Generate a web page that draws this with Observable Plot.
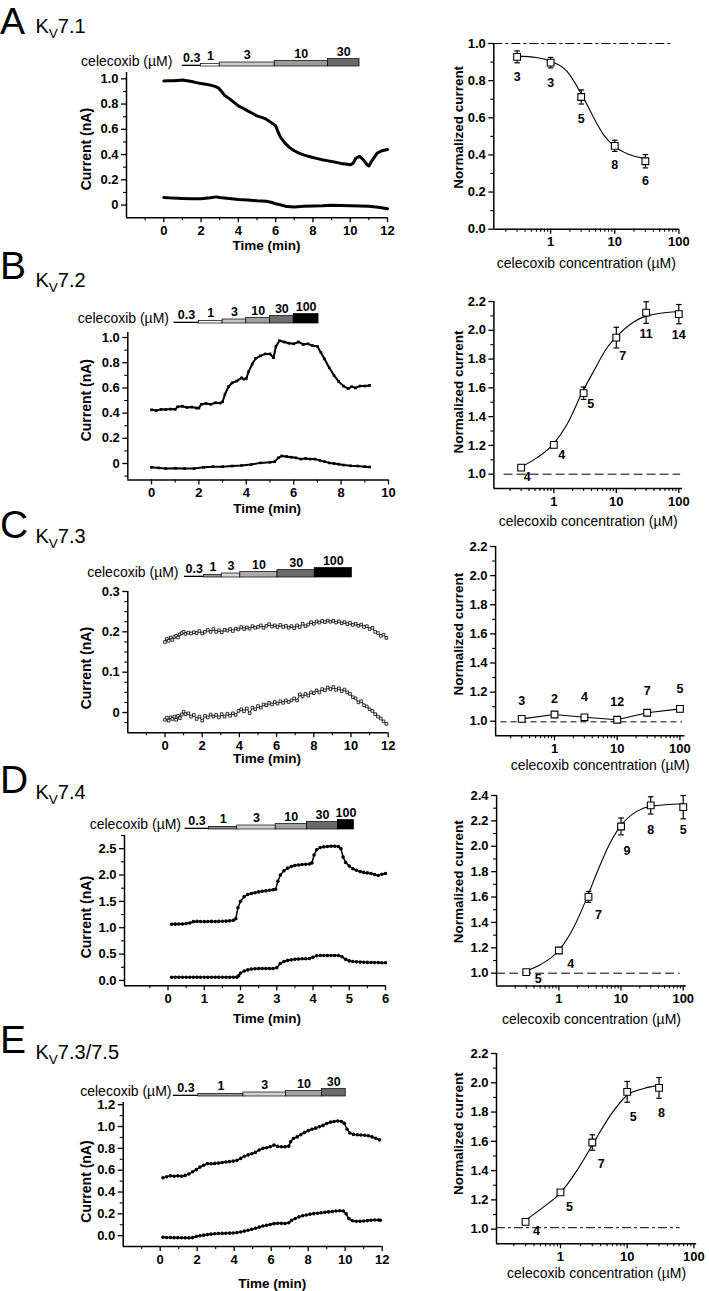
<!DOCTYPE html>
<html><head><meta charset="utf-8">
<script src="https://cdn.jsdelivr.net/npm/d3@7"></script>
<script src="https://cdn.jsdelivr.net/npm/@observablehq/plot@0.6"></script>
<style>
body{margin:0;background:#fff;}
#fig{position:relative;width:709px;height:1291px;overflow:hidden;background:#fff;font-family:"Liberation Sans",Arial,Helvetica,sans-serif;}
</style></head><body><div id="fig"></div>
<script>
const FONT = '"Liberation Sans", Arial, Helvetica, sans-serif';
const fig = document.getElementById("fig");

// ================= DATA =================
// ---- time courses [time (min), current (nA)] ----
const A_traceUpper = [[0,0.983],[0.25,0.985],[0.5,0.984],[0.75,0.987],[1,0.99],[1.25,0.985],[1.5,0.978],[1.75,0.97],[2,0.963],[2.25,0.957],[2.5,0.95],[2.75,0.94],[2.95,0.926],[3.1,0.9],[3.25,0.87],[3.5,0.845],[3.75,0.815],[4,0.786],[4.25,0.767],[4.5,0.746],[4.75,0.727],[5,0.706],[5.25,0.695],[5.5,0.68],[5.75,0.655],[6,0.628],[6.1,0.59],[6.25,0.54],[6.5,0.49],[6.75,0.455],[7,0.43],[7.25,0.412],[7.5,0.398],[7.75,0.386],[8,0.377],[8.25,0.368],[8.5,0.359],[8.75,0.352],[9,0.345],[9.25,0.338],[9.5,0.33],[9.75,0.325],[10,0.319],[10.15,0.33],[10.3,0.37],[10.5,0.385],[10.7,0.36],[10.9,0.32],[11.0,0.31],[11.2,0.36],[11.45,0.412],[11.7,0.43],[12,0.44]];
const A_traceLower = [[0,0.06],[0.5,0.055],[1,0.052],[1.5,0.05],[2,0.05],[2.5,0.058],[2.8,0.065],[3,0.06],[3.5,0.052],[4,0.045],[4.5,0.04],[5,0.034],[5.5,0.03],[5.8,0.02],[6,0.01],[6.3,0.0],[6.6,-0.012],[7,-0.015],[7.5,-0.01],[8,-0.008],[8.5,-0.006],[9,-0.002],[9.5,-0.004],[10,-0.005],[10.5,-0.008],[11,-0.01],[11.5,-0.018],[12,-0.03]];

const B_traceUpper = [[0,0.426],[0.2,0.42],[0.4,0.43],[0.6,0.428],[0.8,0.432],[1.0,0.43],[1.1,0.45],[1.3,0.455],[1.5,0.445],[1.7,0.448],[1.9,0.44],[2.0,0.44],[2.1,0.47],[2.3,0.476],[2.5,0.47],[2.7,0.482],[2.9,0.48],[3.0,0.49],[3.1,0.55],[3.25,0.61],[3.4,0.64],[3.6,0.655],[3.8,0.68],[3.9,0.67],[4.0,0.675],[4.1,0.73],[4.25,0.79],[4.4,0.835],[4.6,0.855],[4.8,0.87],[5.0,0.87],[5.15,0.84],[5.25,0.93],[5.4,0.975],[5.6,0.965],[5.8,0.955],[6.0,0.95],[6.2,0.965],[6.4,0.945],[6.6,0.95],[6.8,0.935],[7.0,0.93],[7.15,0.88],[7.3,0.83],[7.5,0.76],[7.7,0.7],[7.9,0.65],[8.1,0.615],[8.3,0.595],[8.45,0.61],[8.6,0.6],[8.8,0.615],[9.0,0.615],[9.2,0.62]];
const B_traceLower = [[0,-0.03],[0.3,-0.035],[0.6,-0.04],[1.0,-0.037],[1.4,-0.04],[1.8,-0.04],[2.2,-0.03],[2.6,-0.025],[3.0,-0.025],[3.4,-0.02],[3.8,-0.015],[4.2,-0.008],[4.6,0.005],[5.0,0.01],[5.2,0.015],[5.35,0.045],[5.5,0.06],[5.7,0.055],[5.9,0.05],[6.1,0.045],[6.3,0.035],[6.5,0.04],[6.7,0.035],[6.9,0.035],[7.1,0.025],[7.3,0.015],[7.5,0.005],[7.7,0.0],[7.9,-0.005],[8.1,-0.012],[8.4,-0.018],[8.7,-0.02],[9.0,-0.025],[9.2,-0.028]];

const C_traceUpper = [[0,0.175],[0.1,0.183],[0.2,0.178],[0.3,0.186],[0.4,0.18],[0.5,0.187],[0.6,0.19],[0.7,0.186],[0.8,0.194],[0.9,0.197],[1.0,0.2],[1.1,0.195],[1.25,0.198],[1.4,0.196],[1.55,0.199],[1.7,0.197],[1.85,0.202],[2.0,0.196],[2.15,0.2],[2.3,0.205],[2.45,0.2],[2.6,0.207],[2.75,0.2],[2.9,0.204],[3.05,0.199],[3.2,0.205],[3.35,0.203],[3.5,0.207],[3.65,0.202],[3.8,0.208],[3.95,0.206],[4.1,0.212],[4.25,0.207],[4.4,0.211],[4.55,0.208],[4.7,0.214],[4.85,0.21],[5.0,0.212],[5.15,0.216],[5.3,0.21],[5.45,0.215],[5.6,0.219],[5.75,0.213],[5.9,0.216],[6.05,0.212],[6.2,0.217],[6.35,0.212],[6.5,0.215],[6.65,0.21],[6.8,0.214],[6.95,0.209],[7.1,0.216],[7.25,0.212],[7.4,0.22],[7.55,0.214],[7.7,0.218],[7.85,0.224],[8.0,0.22],[8.15,0.226],[8.3,0.223],[8.45,0.227],[8.6,0.224],[8.75,0.228],[8.9,0.225],[9.05,0.227],[9.2,0.223],[9.35,0.226],[9.5,0.221],[9.65,0.224],[9.8,0.219],[9.95,0.222],[10.1,0.217],[10.25,0.22],[10.4,0.215],[10.55,0.218],[10.7,0.212],[10.85,0.214],[11.0,0.207],[11.15,0.21],[11.3,0.2],[11.45,0.197],[11.6,0.19],[11.75,0.193],[11.9,0.185]];
const C_traceLower = [[0,-0.018],[0.1,-0.013],[0.2,-0.02],[0.3,-0.012],[0.4,-0.016],[0.5,-0.01],[0.6,-0.018],[0.7,-0.008],[0.8,-0.014],[0.9,-0.005],[1.0,0.002],[1.1,-0.004],[1.25,-0.002],[1.4,-0.01],[1.55,-0.006],[1.7,-0.016],[1.85,-0.01],[2.0,-0.02],[2.15,-0.008],[2.3,-0.012],[2.45,-0.005],[2.6,-0.01],[2.75,-0.006],[2.9,-0.012],[3.05,-0.004],[3.2,-0.01],[3.35,-0.003],[3.5,-0.008],[3.65,-0.002],[3.8,-0.006],[3.95,0.004],[4.1,0.008],[4.25,0.003],[4.4,0.01],[4.55,-0.002],[4.7,0.012],[4.85,0.008],[5.0,0.016],[5.15,0.012],[5.3,0.02],[5.45,0.018],[5.6,0.024],[5.75,0.02],[5.9,0.026],[6.05,0.022],[6.2,0.028],[6.35,0.024],[6.5,0.03],[6.65,0.026],[6.8,0.03],[6.95,0.035],[7.1,0.03],[7.25,0.045],[7.4,0.04],[7.55,0.046],[7.7,0.042],[7.85,0.05],[8.0,0.048],[8.15,0.055],[8.3,0.05],[8.45,0.058],[8.6,0.055],[8.75,0.062],[8.9,0.058],[9.05,0.063],[9.2,0.056],[9.35,0.06],[9.5,0.053],[9.65,0.057],[9.8,0.05],[9.95,0.046],[10.1,0.038],[10.25,0.035],[10.4,0.025],[10.55,0.028],[10.7,0.018],[10.85,0.015],[11.0,0.008],[11.15,0.004],[11.3,-0.004],[11.45,-0.01],[11.6,-0.015],[11.75,-0.022],[11.9,-0.028]];

const D_traceUpper = [[0.1,1.065],[0.2,1.068],[0.3,1.07],[0.4,1.072],[0.5,1.078],[0.6,1.09],[0.7,1.115],[0.8,1.12],[0.9,1.118],[1.0,1.115],[1.1,1.118],[1.2,1.12],[1.3,1.118],[1.4,1.12],[1.5,1.122],[1.6,1.125],[1.7,1.13],[1.8,1.14],[1.87,1.17],[1.93,1.38],[2.0,1.5],[2.1,1.59],[2.2,1.63],[2.3,1.65],[2.4,1.665],[2.5,1.68],[2.6,1.69],[2.7,1.7],[2.8,1.71],[2.9,1.72],[2.97,1.73],[3.03,1.88],[3.1,2.0],[3.2,2.08],[3.3,2.13],[3.4,2.16],[3.5,2.18],[3.6,2.19],[3.7,2.2],[3.8,2.205],[3.9,2.21],[3.97,2.23],[4.03,2.38],[4.1,2.48],[4.2,2.52],[4.3,2.535],[4.4,2.54],[4.5,2.545],[4.6,2.545],[4.7,2.54],[4.77,2.5],[4.83,2.34],[4.9,2.24],[5.0,2.17],[5.1,2.12],[5.2,2.09],[5.3,2.065],[5.4,2.05],[5.5,2.04],[5.6,2.03],[5.7,2.01],[5.8,1.99],[5.9,2.015],[6.0,2.03]];
const D_traceLower = [[0.1,0.06],[0.2,0.06],[0.3,0.06],[0.4,0.06],[0.5,0.06],[0.6,0.06],[0.7,0.06],[0.8,0.06],[0.9,0.06],[1.0,0.06],[1.1,0.06],[1.2,0.06],[1.3,0.06],[1.4,0.06],[1.5,0.06],[1.6,0.06],[1.7,0.06],[1.8,0.06],[1.9,0.062],[1.95,0.09],[2.0,0.14],[2.1,0.18],[2.2,0.2],[2.3,0.215],[2.4,0.222],[2.5,0.225],[2.6,0.226],[2.7,0.226],[2.8,0.226],[2.9,0.226],[3.0,0.24],[3.1,0.32],[3.2,0.36],[3.3,0.38],[3.4,0.39],[3.5,0.4],[3.6,0.405],[3.7,0.41],[3.8,0.412],[3.9,0.415],[4.0,0.44],[4.1,0.468],[4.2,0.472],[4.3,0.474],[4.4,0.474],[4.5,0.474],[4.6,0.474],[4.7,0.472],[4.8,0.45],[4.9,0.4],[5.0,0.37],[5.1,0.36],[5.2,0.352],[5.3,0.348],[5.4,0.345],[5.5,0.342],[5.6,0.34],[5.7,0.338],[5.8,0.338],[5.9,0.336],[6.0,0.335]];

const E_traceUpper = [[0.15,0.53],[0.35,0.54],[0.55,0.548],[0.75,0.545],[0.95,0.548],[1.15,0.545],[1.35,0.552],[1.55,0.565],[1.75,0.585],[1.95,0.605],[2.15,0.628],[2.35,0.645],[2.55,0.66],[2.75,0.66],[2.95,0.662],[3.15,0.665],[3.35,0.67],[3.55,0.675],[3.75,0.678],[3.95,0.683],[4.15,0.69],[4.35,0.708],[4.55,0.728],[4.75,0.74],[4.95,0.75],[5.15,0.763],[5.35,0.785],[5.55,0.8],[5.75,0.805],[5.95,0.815],[6.15,0.83],[6.35,0.818],[6.55,0.815],[6.75,0.815],[6.95,0.82],[7.05,0.86],[7.2,0.89],[7.4,0.905],[7.6,0.925],[7.8,0.945],[8.0,0.962],[8.2,0.975],[8.4,0.985],[8.6,0.998],[8.8,1.01],[9.0,1.028],[9.2,1.04],[9.4,1.045],[9.6,1.05],[9.8,1.046],[9.95,1.03],[10.1,0.975],[10.25,0.94],[10.45,0.928],[10.65,0.925],[10.85,0.922],[11.05,0.92],[11.25,0.915],[11.45,0.905],[11.65,0.892],[11.85,0.878]];
const E_traceLower = [[0.15,-0.015],[0.35,-0.016],[0.55,-0.017],[0.75,-0.018],[0.95,-0.018],[1.15,-0.019],[1.35,-0.02],[1.55,-0.02],[1.75,-0.018],[1.95,-0.008],[2.15,0.0],[2.35,0.005],[2.55,0.01],[2.75,0.014],[2.95,0.018],[3.15,0.02],[3.35,0.021],[3.55,0.022],[3.75,0.023],[3.95,0.025],[4.15,0.028],[4.35,0.034],[4.55,0.042],[4.75,0.05],[4.95,0.058],[5.15,0.068],[5.35,0.078],[5.55,0.088],[5.75,0.095],[5.95,0.102],[6.15,0.11],[6.35,0.113],[6.55,0.113],[6.75,0.112],[6.95,0.118],[7.1,0.14],[7.3,0.158],[7.5,0.172],[7.7,0.183],[7.9,0.19],[8.1,0.197],[8.3,0.202],[8.5,0.206],[8.7,0.21],[8.9,0.214],[9.1,0.218],[9.3,0.222],[9.5,0.226],[9.7,0.228],[9.9,0.226],[10.05,0.2],[10.2,0.155],[10.4,0.137],[10.6,0.132],[10.8,0.132],[11.0,0.135],[11.2,0.138],[11.4,0.141],[11.6,0.143],[11.8,0.143],[11.9,0.142]];

// ---- celecoxib application bars (µM, start/end in min) ----
const A_barConc = ["0.3","1","3","10","30"];
const A_barStart = [1,2,3,5.95,8.8];
const A_barEnd = [2,3,5.95,8.8,10.5];
const B_barConc = ["0.3","1","3","10","30","100"];
const B_barStart = [0.95,2,3,4,5,6];
const B_barEnd = [2,3,4,5,6,7.05];
const C_barConc = ["0.3","1","3","10","30","100"];
const C_barStart = [1.05,2.1,3.05,4.05,6.05,8.05];
const C_barEnd = [2.1,3.05,4.05,6.05,8.05,10.05];
const D_barConc = ["0.3","1","3","10","30","100"];
const D_barStart = [0.47,1.13,1.91,2.97,3.83,4.69];
const D_barEnd = [1.13,1.91,2.97,3.83,4.69,5.13];
const E_barConc = ["0.3","1","3","10","30"];
const E_barStart = [0.72,2.06,4.5,6.8,8.74];
const E_barEnd = [2.06,4.5,6.8,8.74,10.03];

// ---- concentration–response (mean ± SEM, n) ----
const A_conc = [0.3,1,3,10,30];
const A_mean = [0.928,0.897,0.712,0.449,0.366];
const A_sem = [0.032,0.028,0.038,0.03,0.036];
const A_n = [3,3,5,8,6];
const A_fit = [[0.3,0.932],[0.6,0.925],[1,0.905],[1.8,0.85],[3,0.73],[4.7,0.6],[6.8,0.505],[10,0.445],[16,0.405],[30,0.38]];

const B_conc = [0.3,1,3,10,30,100];
const B_mean = [1.046,1.204,1.563,1.949,2.123,2.112];
const B_sem = [0.019,0.02,0.043,0.072,0.075,0.067];
const B_n = [4,4,5,7,11,14];
const B_fit = [[0.3,1.05],[0.54,1.115],[1,1.213],[1.63,1.347],[2.84,1.567],[4.37,1.718],[7.15,1.88],[10,1.954],[19,2.058],[31,2.1],[100,2.13]];

const C_conc = [0.3,1,3,10,30,100];
const C_mean = [1.016,1.046,1.027,1.01,1.058,1.085];
const C_sem = [0.012,0.014,0.013,0.012,0.01,0.02];
const C_n = [3,2,4,12,7,5];

const D_conc = [0.3,1,3,10,30,100];
const D_mean = [1.008,1.179,1.601,2.156,2.322,2.308];
const D_sem = [0.012,0.016,0.043,0.066,0.068,0.092];
const D_n = [5,4,7,9,8,5];
const D_fit = [[0.3,1.018],[0.51,1.069],[1,1.179],[1.74,1.362],[2.86,1.6],[4.14,1.797],[6.37,2.007],[10,2.165],[18.2,2.277],[31,2.316],[100,2.335]];

const E_conc = [0.3,1,3,10,30];
const E_mean = [1.05,1.251,1.592,1.938,1.965];
const E_sem = [0.012,0.012,0.053,0.071,0.071];
const E_n = [4,5,7,5,8];
const E_fit = [[0.3,1.061],[0.56,1.152],[1,1.248],[1.78,1.403],[3.16,1.592],[5.62,1.779],[10,1.915],[17.8,1.961],[30,1.984]];

// ---- tick values / labels ----
const time12Ticks = [0,2,4,6,8,10,12];
const time12Minor = [-1,1,3,5,7,9,11];
const time10Ticks = [0,2,4,6,8,10];
const time10Minor = [1,3,5,7,9];
const time6Ticks = [0,1,2,3,4,5,6];
const time6Minor = [-0.5,0.5,1.5,2.5,3.5,4.5,5.5];
const curA_ticks = [0,0.2,0.4,0.6,0.8,1.0];
const curA_labels = ["0","0.2","0.4","0.6","0.8","1.0"];
const curA_minor = [0.1,0.3,0.5,0.7,0.9];
const curB_minor = [-0.1,0.1,0.3,0.5,0.7,0.9];
const curC_ticks = [0,0.1,0.2,0.3];
const curC_labels = ["0","0.1","0.2","0.3"];
const curC_minor = [-0.025,0.025,0.05,0.075,0.125,0.15,0.175,0.225,0.25,0.275];
const curD_ticks = [0,0.5,1,1.5,2,2.5];
const curD_labels = ["0.0","0.5","1.0","1.5","2.0","2.5"];
const curD_minor = [0.25,0.75,1.25,1.75,2.25,2.75];
const curE_ticks = [0,0.2,0.4,0.6,0.8,1.0,1.2];
const curE_labels = ["0.0","0.2","0.4","0.6","0.8","1.0","1.2"];
const curE_minor = [0.1,0.3,0.5,0.7,0.9,1.1];
const normA_ticks = [0,0.2,0.4,0.6,0.8,1.0];
const normA_labels = ["0.0","0.2","0.4","0.6","0.8","1.0"];
const normA_minor = [0.1,0.3,0.5,0.7,0.9];
const norm22_ticks = [1.0,1.2,1.4,1.6,1.8,2.0,2.2];
const norm22_labels = ["1.0","1.2","1.4","1.6","1.8","2.0","2.2"];
const norm22_minor = [1.1,1.3,1.5,1.7,1.9,2.1];
const norm24_ticks = [1.0,1.2,1.4,1.6,1.8,2.0,2.2,2.4];
const norm24_labels = ["1.0","1.2","1.4","1.6","1.8","2.0","2.2","2.4"];
const norm24_minor = [1.1,1.3,1.5,1.7,1.9,2.1,2.3];
const concTicks = [1,10,100];
const concMinor = [0.2,0.3,0.4,0.5,0.6,0.7,0.8,0.9,2,3,4,5,6,7,8,9,20,30,40,50,60,70,80,90];

// ================= LAYOUT / STYLE =================
const barThickness = {"0.3":1.3,"1":2.6,"3":4,"10":5.5,"30":7.5,"100":9.5};
const panels = [
  {letter:"A", letterSize:37.5, title:"7.1", letterY:33.8, titleY:33.3,
   L:{xDomain:[-2,12], yDomain:[-0.1,1.05], px:[126,387,71.7,216.9], xTicks:time12Ticks, xMinor:time12Minor,
      yTicks:curA_ticks, yLabels:curA_labels, yMinor:curA_minor, traces:[A_traceUpper,A_traceLower], kind:"solid",
      xLabelDx:9.5, xLabelDy:28, yLabelDy:4,
      bars:{conc:A_barConc,start:A_barStart,end:A_barEnd,colors:["#000","#fff","#c8c8c8","#9a9a9a","#6a6a6a"],bottom:65.7,labelDx:-10}},
   R:{xDomain:[0.13,100], yDomain:[0,1], px:[493.3,678.4,43.3,229], yTicks:normA_ticks, yLabels:normA_labels, yMinor:normA_minor,
      conc:A_conc, mean:A_mean, sem:A_sem, n:A_n, fit:A_fit, ref:{y:1,x1:0.13,x2:83,dash:"9,3,3,3"},
      nOff:[[0,20],[0,20],[0,22],[0,19],[0,20]], xLabelDy:34, xLabelDx:0, yLabelDy:-9}},
  {letter:"B", letterSize:39, title:"7.2", letterY:279.3, titleY:286.7,
   L:{xDomain:[-1,10], yDomain:[-0.13,1.04], px:[127.3,388,331.7,479.1], xTicks:time10Ticks, xMinor:time10Minor,
      yTicks:curA_ticks, yLabels:curA_labels, yMinor:curB_minor, traces:[B_traceUpper,B_traceLower], kind:"beads",
      xLabelDx:9, xLabelDy:29, yLabelDy:-6,
      bars:{conc:B_barConc,start:B_barStart,end:B_barEnd,colors:["#000","#f4f4f4","#c4c4c4","#a0a0a0","#6e6e6e","#000"],bottom:323.3,labelDx:-5}},
   R:{xDomain:[0.11,115], yDomain:[0.9,2.2], px:[493.4,682.1,300.7,487.8], yTicks:norm22_ticks, yLabels:norm22_labels, yMinor:norm22_minor,
      conc:B_conc, mean:B_mean, sem:B_sem, n:B_n, fit:B_fit, ref:{y:1,x1:0.16,x2:107,dash:"9,4"},
      nOff:[[6,9],[8,10],[7,11],[6.5,18],[0,21],[0,21]], xLabelDy:33, xLabelDx:0, yLabelDy:-3}},
  {letter:"C", letterSize:39, title:"7.3", letterY:537.5, titleY:543.3,
   L:{xDomain:[-2,12], yDomain:[-0.05,0.3], px:[127.3,387.7,590.7,731.9], xTicks:time12Ticks, xMinor:time12Minor,
      yTicks:curC_ticks, yLabels:curC_labels, yMinor:curC_minor, traces:[C_traceUpper,C_traceLower], kind:"open",
      xLabelDx:9, xLabelDy:26.4, yLabelDy:6,
      bars:{conc:C_barConc,start:C_barStart,end:C_barEnd,colors:["#000","#9a9a9a","#d8d8d8","#aaaaaa","#6a6a6a","#000"],bottom:576.7,labelDx:-6}},
   R:{xDomain:[0.115,120], yDomain:[0.9,2.2], px:[495.1,684.4,546,735.3], yTicks:norm22_ticks, yLabels:norm22_labels, yMinor:norm22_minor,
      conc:C_conc, mean:C_mean, sem:C_sem, n:C_n, fit:null, ref:{y:0.996,x1:0.14,x2:110,dash:"6,4"},
      nOff:[[0,-18],[0,-16],[0,-20],[0,-18],[0,-22],[0,-20]], xLabelDy:30, xLabelDx:10, yLabelDy:-7}},
  {letter:"D", letterSize:39, title:"7.4", letterY:793.3, titleY:799.3,
   L:{xDomain:[-1.2,6], yDomain:[-0.1,2.75], px:[124,385,835.1,985.3], xTicks:time6Ticks, xMinor:time6Minor,
      yTicks:curD_ticks, yLabels:curD_labels, yMinor:curD_minor, traces:[D_traceUpper,D_traceLower], kind:"dots",
      xLabelDx:12, xLabelDy:33, yLabelDy:6.5,
      bars:{conc:D_barConc,start:D_barStart,end:D_barEnd,colors:["#000","#8a8a8a","#d0d0d0","#a0a0a0","#6a6a6a","#000"],bottom:829,labelDx:-4}},
   R:{xDomain:[0.1,112], yDomain:[0.9,2.4], px:[496.1,685.8,795,985.4], yTicks:norm24_ticks, yLabels:norm24_labels, yMinor:norm24_minor,
      conc:D_conc, mean:D_mean, sem:D_sem, n:D_n, fit:D_fit, ref:{y:1,x1:0.1,x2:89,dash:"9,4"},
      nOff:[[12,7],[12,14],[10,18],[6,25],[0,25],[0,23]], xLabelDy:34, xLabelDx:0, yLabelDy:-9}},
  {letter:"E", letterSize:39, title:"7.3/7.5", letterY:1053.3, titleY:1059.3,
   L:{xDomain:[-2,12], yDomain:[-0.1,1.22], px:[122.7,381.7,1101.8,1245.9], xTicks:time12Ticks, xMinor:time12Minor,
      yTicks:curE_ticks, yLabels:curE_labels, yMinor:curE_minor, traces:[E_traceUpper,E_traceLower], kind:"dots",
      xLabelDx:19.5, xLabelDy:37.4, yLabelDy:7,
      bars:{conc:E_barConc,start:E_barStart,end:E_barEnd,colors:["#000","#9a9a9a","#d0d0d0","#a0a0a0","#6a6a6a"],bottom:1095.7,labelDx:-2}},
   R:{xDomain:[0.11,110], yDomain:[0.9,2.2], px:[496,696.2,1053.3,1243.6], yTicks:norm22_ticks, yLabels:norm22_labels, yMinor:norm22_minor,
      conc:E_conc, mean:E_mean, sem:E_sem, n:E_n, fit:E_fit, ref:{y:1.01,x1:0.11,x2:62,dash:"9,3,3,3"},
      nOff:[[11,9],[9,15],[9,21],[6,25],[2.5,25]], xLabelDy:30, xLabelDx:0, yLabelDy:-15}}
];

const baseStyle = {fontFamily: FONT, fontSize: "13px", fontWeight: "bold", background: "transparent", overflow: "visible", color: "black"};
function place(el, left, top) {
  el.style.position = "absolute";
  el.style.left = left + "px";
  el.style.top = top + "px";
  el.style.maxWidth = "none";
  fig.appendChild(el);
}
function axesMarks(xTicks, xMinor, xFmt, yTicks, yLabels, yMinor, xDomain, yDomain) {
  return [
    Plot.ruleX([xDomain[0]], {stroke: "black", strokeWidth: 1.5}),
    Plot.ruleY([yDomain[0]], {stroke: "black", strokeWidth: 1.5}),
    Plot.axisX({ticks: xTicks, tickSize: 5, tickPadding: 3, strokeWidth: 1.3, tickFormat: xFmt, label: null}),
    Plot.axisX({ticks: xMinor, tickSize: 3, strokeWidth: 1.1, tickFormat: () => "", label: null}),
    Plot.axisY({ticks: yTicks, tickSize: 5, tickPadding: 3, strokeWidth: 1.3, tickFormat: d => yLabels[yTicks.indexOf(d)], label: null}),
    Plot.axisY({ticks: yMinor, tickSize: 3, strokeWidth: 1.1, tickFormat: () => "", label: null})
  ];
}
const centered = {textAnchor: "middle", lineAnchor: "middle"};

function tracePanel(c) {
  const [left, right, top, bottom] = c.px;
  const W = 400, mt = 14, mb = 50;
  const marks = axesMarks(c.xTicks, c.xMinor, d => String(d), c.yTicks, c.yLabels, c.yMinor, c.xDomain, c.yDomain);
  marks.push(
    Plot.text(["Time (min)"], {frameAnchor: "bottom", ...centered, text: d => d, dx: c.xLabelDx, dy: c.xLabelDy, fontSize: 13.5, fontWeight: "bold"}),
    Plot.text(["Current (nA)"], {frameAnchor: "left", ...centered, text: d => d, rotate: -90, dx: 86 - left, dy: c.yLabelDy, fontSize: 14, fontWeight: "bold"})
  );
  for (const tr of c.traces) {
    if (c.kind === "solid") {
      marks.push(Plot.line(tr, {stroke: "black", strokeWidth: 3, strokeLinejoin: "round"}));
    } else if (c.kind === "beads") {
      marks.push(Plot.line(tr, {stroke: "black", strokeWidth: 2}));
      marks.push(Plot.dot(tr, {symbol: "square", r: 1.5, fill: "black", stroke: "none"}));
    } else if (c.kind === "open") {
      marks.push(Plot.line(tr, {stroke: "black", strokeWidth: 0.9}));
      marks.push(Plot.dot(tr, {symbol: "square", r: 1.5, fill: "white", stroke: "black", strokeWidth: 0.8}));
    } else {
      marks.push(Plot.line(tr, {stroke: "black", strokeWidth: 1.5}));
      marks.push(Plot.dot(tr, {r: 1.8, fill: "black", stroke: "none"}));
    }
  }
  const p = Plot.plot({
    width: W, height: (bottom - top) + mt + mb,
    marginLeft: left, marginRight: W - right, marginTop: mt, marginBottom: mb,
    x: {domain: c.xDomain}, y: {domain: c.yDomain},
    style: baseStyle, marks
  });
  place(p, 0, top - mt);

  // drug application bars (same x scale settings as the trace plot)
  const b = c.bars;
  const rows = b.conc.map((k, i) => ({conc: k, start: b.start[i], end: b.end[i], color: b.colors[i]}));
  const H = 40, mbb = 6;
  const bp = Plot.plot({
    width: W, height: H, marginLeft: left, marginRight: W - right, marginTop: 0, marginBottom: mbb,
    x: {domain: c.xDomain, axis: null}, y: {domain: [0, H - mbb], axis: null},
    color: {type: "identity"},
    style: baseStyle,
    marks: [
      Plot.rect(rows, {x1: "start", x2: "end", y1: () => 0, y2: d => barThickness[d.conc], fill: "color",
        stroke: d => d.conc === "0.3" ? "none" : "black", strokeWidth: 0.7}),
      Plot.text(rows, {x: d => (d.start + d.end) / 2, y: d => barThickness[d.conc], ...centered, dy: -7.5, text: "conc", fontSize: 12.5, fontWeight: "bold"}),
      Plot.text(["celecoxib (µM)"], {x: () => b.start[0], y: () => 0, text: d => d, dx: b.labelDx, dy: -5, textAnchor: "end", lineAnchor: "middle", fontSize: 14, fontWeight: "normal"})
    ]
  });
  place(bp, 0, b.bottom - (H - mbb));
}

const capSymbol = {draw(ctx, size) { const h = Math.sqrt(size / Math.PI); ctx.moveTo(-h, 0); ctx.lineTo(h, 0); }};

function dosePanel(c) {
  const [left, right, top, bottom] = c.px;
  const X0 = 400, W = 309, mt = 14, mb = 48;
  const pts = c.conc.map((x, i) => ({c: x, m: c.mean[i], e: c.sem[i], n: c.n[i]}));
  const marks = axesMarks(concTicks, concMinor, d => String(d), c.yTicks, c.yLabels, c.yMinor, c.xDomain, c.yDomain);
  marks.push(
    Plot.text(["celecoxib concentration (µM)"], {frameAnchor: "bottom", ...centered, text: d => d, dx: c.xLabelDx, dy: c.xLabelDy, fontSize: 14, fontWeight: "normal"}),
    Plot.text(["Normalized current"], {frameAnchor: "left", ...centered, text: d => d, rotate: -90, dx: 57.7 - (left - X0), dy: c.yLabelDy, fontSize: 13.5, fontWeight: "bold"}),
    Plot.ruleY([c.ref.y], {x1: c.ref.x1, x2: c.ref.x2, stroke: "black", strokeWidth: 1, strokeDasharray: c.ref.dash})
  );
  if (c.fit) marks.push(Plot.line(c.fit, {curve: "monotone-x", stroke: "black", strokeWidth: 1.1}));
  else marks.push(Plot.line(pts, {x: "c", y: "m", stroke: "black", strokeWidth: 1.1}));
  marks.push(
    Plot.ruleX(pts, {x: "c", y1: d => d.m - d.e, y2: d => d.m + d.e, stroke: "black", strokeWidth: 1.2}),
    Plot.dot(pts, {x: "c", y: d => d.m + d.e, symbol: capSymbol, r: 2.8, fill: "none", stroke: "black", strokeWidth: 1.2}),
    Plot.dot(pts, {x: "c", y: d => d.m - d.e, symbol: capSymbol, r: 2.8, fill: "none", stroke: "black", strokeWidth: 1.2}),
    Plot.dot(pts, {x: "c", y: "m", symbol: "square", r: 3.8, fill: "white", stroke: "black", strokeWidth: 1.1})
  );
  pts.forEach((p, i) => {
    marks.push(Plot.text([p], {x: "c", y: "m", ...centered, text: d => String(d.n), dx: c.nOff[i][0], dy: c.nOff[i][1], fontSize: 12.5, fontWeight: "bold"}));
  });
  const p = Plot.plot({
    width: W, height: (bottom - top) + mt + mb,
    marginLeft: left - X0, marginRight: X0 + W - right, marginTop: mt, marginBottom: mb,
    x: {type: "log", domain: c.xDomain}, y: {domain: c.yDomain},
    style: baseStyle, marks
  });
  place(p, X0, top - mt);
}

for (const pn of panels) { tracePanel(pn.L); dosePanel(pn.R); }

// panel letters and channel names
const ov = d3.select(fig).append("svg")
  .attr("width", 709).attr("height", 1291)
  .style("position", "absolute").style("left", "0px").style("top", "0px")
  .style("font-family", FONT).style("pointer-events", "none");
for (const pn of panels) {
  ov.append("text").attr("x", 0).attr("y", pn.letterY).attr("font-size", pn.letterSize).text(pn.letter);
  const t = ov.append("text").attr("x", 35.5).attr("y", pn.titleY).attr("font-size", 20);
  t.append("tspan").text("K");
  t.append("tspan").attr("font-size", 13.5).attr("dy", 5).text("V");
  t.append("tspan").attr("dy", -5).text(pn.title);
}
</script></body></html>
